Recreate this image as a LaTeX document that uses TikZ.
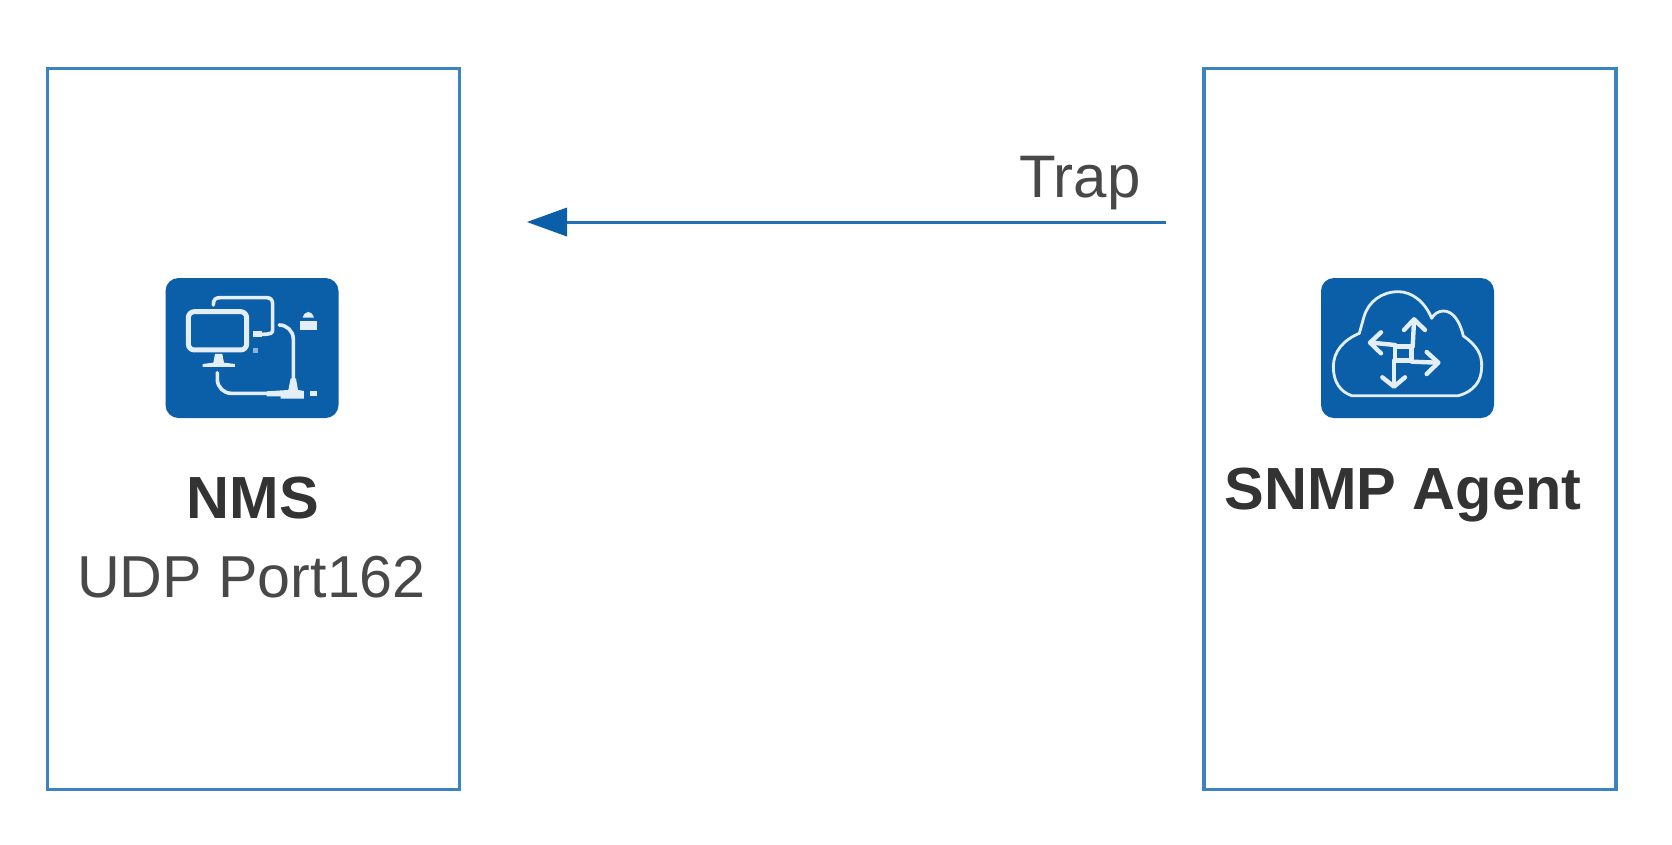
\documentclass[tikz,border=0pt]{standalone}
\usepackage{fontspec}
\setmainfont{Liberation Sans}
\usetikzlibrary{arrows.meta}
\definecolor{hwblue}{HTML}{0B5EA8}
\definecolor{boxblue}{HTML}{3C83C4}
\definecolor{linkblue}{HTML}{2470B5}
\definecolor{txt}{HTML}{484848}
\definecolor{txtb}{HTML}{333333}
\definecolor{glyph}{HTML}{E4EEF7}
\tikzset{
  panel/.style={draw=boxblue,line width=3.2pt,fill=white,inner sep=0pt,minimum width=412pt,minimum height=721pt},
  iconbg/.style={fill=hwblue,rounded corners=13pt,inner sep=0pt,minimum width=173pt,minimum height=140pt},
  label/.style={inner sep=0pt,anchor=base,text=txt,font=\fontsize{60}{60}\selectfont},
  blabel/.style={label,text=txtb,font=\fontsize{59.5}{60}\selectfont\bfseries},
  flow/.style={draw=linkblue,line width=3pt,-{Triangle[length=40pt,width=29pt,color=hwblue,fill=hwblue,line width=0pt]}},
  gl/.style={draw=glyph,line width=3.6pt,line cap=round,line join=round}
}
\begin{document}
\begin{tikzpicture}[x=1pt,y=-1pt]
\useasboundingbox (0,0) rectangle (1672,844);
\node[panel] (nmsbox) at (253.5,429) {};
\node[panel] (agentbox) at (1410,429) {};
\node[iconbg] (nmsicon) at (252,348) {};
\node[iconbg] (agenticon) at (1407.5,348) {};
\node[blabel] (nms) at (253,518) {NMS};
\node[label,font=\fontsize{59.2}{60}\selectfont] (port) at (251.5,597) {UDP Port162};
\node[blabel] (agent) at (1403,509) {SNMP Agent};
\node[label] (trap) at (1080,197) {Trap};
\coordinate (from) at (1166,222);
\coordinate (to) at (527,222);
\draw[flow] (from) -- (to);
% NMS glyph
\begin{scope}[shift={(120pt,-250pt)},x=0.3333pt,y=-0.3333pt]
  \draw[gl] (280,165) .. controls (280,150) and (285,143) .. (300,143) -- (440,143) .. controls (452,143) and (458,150) .. (458,162) -- (458,240) .. controls (458,250) and (452,253) .. (425,253);
  \draw[gl,line width=5pt,rounded corners=6pt] (205,185) rectangle (380,300);
  \fill[glyph] (400,243) rectangle (427,261);
  \fill[glyph] (285,312) -- (307,312) -- (312,338) -- (345,342) -- (345,351) -- (248,351) -- (248,342) -- (280,338) -- cycle;
  \fill[glyph!60!hwblue] (398,293) rectangle (414,309);
  \draw[gl,rounded corners=14pt] (292,368) -- (292,430) -- (450,430);
  \draw[gl,rounded corners=14pt] (478,225) -- (520,225) -- (520,410);
  \fill[glyph] (512,385) -- (528,385) -- (534,420) -- (552,423) -- (552,446) -- (482,446) -- (482,439) -- (440,439) -- (440,424) -- (505,420) -- cycle;
  \fill[glyph] (570,423) rectangle (592,439);
  \fill[glyph] (540,212) rectangle (590,241);
  \fill[glyph] (548,203) .. controls (555,180) and (575,180) .. (582,203) -- cycle;
\end{scope}
% Agent glyph
\begin{scope}[shift={(1290pt,-250pt)},x=0.3333pt,y=-0.3333pt]
  \draw[gl,line width=2.8pt] (185,437) -- (505,437)
    .. controls (550,425) and (575,395) .. (575,350)
    .. controls (577,315) and (560,285) .. (520,258)
    .. controls (510,215) and (490,183) .. (460,183)
    .. controls (445,183) and (432,192) .. (425,205)
    .. controls (405,155) and (365,125) .. (325,125)
    .. controls (275,125) and (235,155) .. (222,200)
    -- (208,250)
    .. controls (160,270) and (130,305) .. (130,350)
    .. controls (130,395) and (150,425) .. (185,437) -- cycle;
  \draw[gl,line width=4.4pt] (315,290) rectangle (365,332);
  \draw[gl,line width=4.4pt] (368,290) -- (372,215);
  \draw[gl,line width=4.4pt] (342,240) -- (372,208) -- (405,240);
  \draw[gl,line width=4.4pt] (315,285) -- (245,278);
  \draw[gl,line width=4.4pt] (273,247) -- (240,278) -- (273,310);
  \draw[gl,line width=4.4pt] (365,335) -- (440,338);
  \draw[gl,line width=4.4pt] (410,306) -- (445,338) -- (410,372);
  \draw[gl,line width=4.4pt] (312,332) -- (312,405);
  \draw[gl,line width=4.4pt] (277,382) -- (312,410) -- (345,382);
\end{scope}
\end{tikzpicture}
\end{document}
